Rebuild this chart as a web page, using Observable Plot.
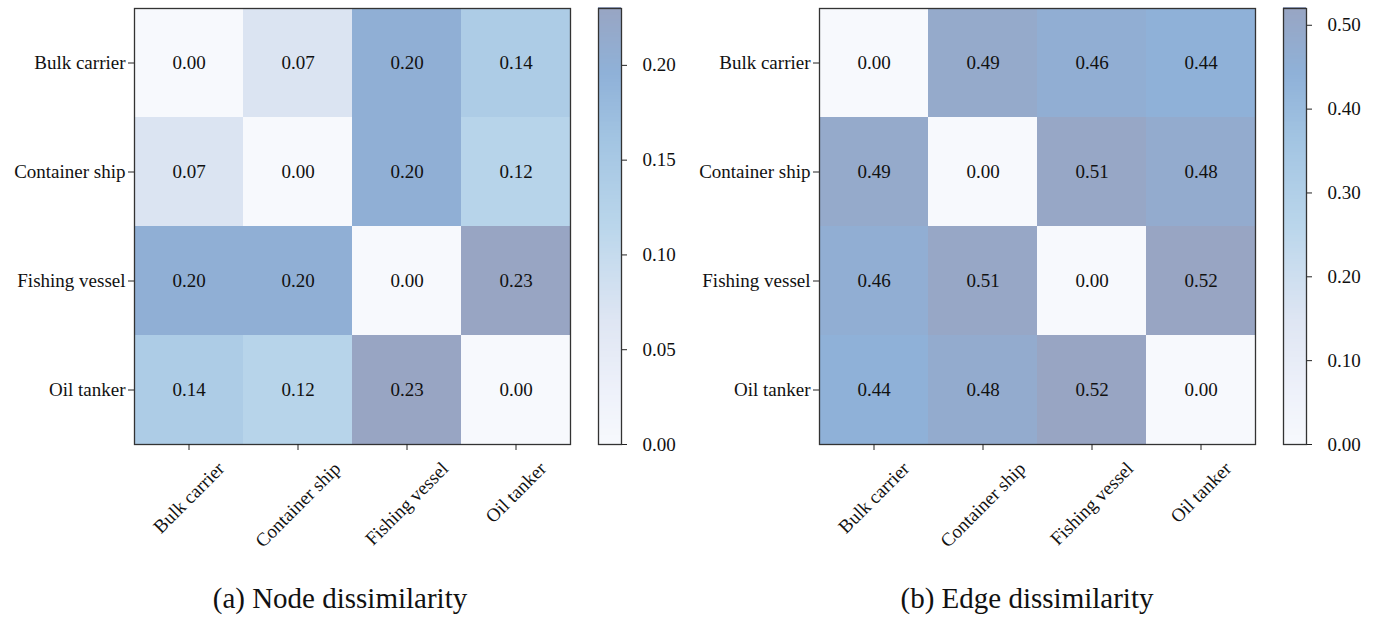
<!DOCTYPE html>
<html>
<head>
<meta charset="utf-8">
<script src="https://cdn.jsdelivr.net/npm/d3@7"></script>
<script src="https://cdn.jsdelivr.net/npm/@observablehq/plot@0.6"></script>
<style>
  html, body { margin: 0; padding: 0; background: #fff; }
  #figure { position: relative; width: 1379px; height: 617px; background: #fff; overflow: hidden; }
  .caption {
    position: absolute; width: 440px; text-align: center;
    font-family: "Liberation Serif", "Times New Roman", serif;
    font-size: 29px; line-height: 28px; color: #111; top: 584px;
  }
</style>
</head>
<body>
<div id="figure"></div>
<script>
// Ship categories (rows and columns of both matrices)
const ships = ["Bulk carrier", "Container ship", "Fishing vessel", "Oil tanker"];

// Pairwise node dissimilarity between ship types
const nodeDissimilarity = [
  [0.00, 0.07, 0.20, 0.14],
  [0.07, 0.00, 0.20, 0.12],
  [0.20, 0.20, 0.00, 0.23],
  [0.14, 0.12, 0.23, 0.00]
];

// Pairwise edge dissimilarity between ship types
const edgeDissimilarity = [
  [0.00, 0.49, 0.46, 0.44],
  [0.49, 0.00, 0.51, 0.48],
  [0.46, 0.51, 0.00, 0.52],
  [0.44, 0.48, 0.52, 0.00]
];

// Colour-bar tick values
const nodeTicks = [0.00, 0.05, 0.10, 0.15, 0.20];
const edgeTicks = [0.00, 0.10, 0.20, 0.30, 0.40, 0.50];

const captions = ["(a) Node dissimilarity", "(b) Edge dissimilarity"];

// Colour ramp: near-white -> pale lavender -> light blue -> mid blue -> slate
const rampStops = [0, 0.12, 0.28, 0.5, 0.7, 0.85, 1];
const rampColors = ["#f7f9fd", "#eef1fa", "#dfe6f3", "#bad6eb", "#a2c4e2", "#8fb1d8", "#98a5c3"];

const FONT = "Liberation Serif";
const FS = 19;
const fmt = d3.format(".2f");

function colorOptions(vmax) {
  return {
    type: "linear",
    domain: rampStops.map(s => s * vmax),
    range: rampColors,
    interpolate: "rgb"
  };
}

const measureCtx = document.createElement("canvas").getContext("2d");
measureCtx.font = `${FS}px "${FONT}"`;

function heatmap(matrix) {
  const cells = [];
  matrix.forEach((row, i) => row.forEach((v, j) => cells.push({row: ships[i], col: ships[j], v})));
  const vmax = d3.max(cells, d => d.v);

  // rotated column labels: bounding box top-aligned below the tick, centred on it
  const colLabels = ships.map(name => {
    const w = measureCtx.measureText(name).width;
    const half = (w + FS * 0.9) * Math.SQRT1_2 / 2;
    return Plot.text([name], {
      x: d => d, frameAnchor: "bottom", text: d => d,
      rotate: -45, textAnchor: "middle", lineAnchor: "middle",
      dy: 15 + half, fontSize: FS, fill: "#111"
    });
  });

  const svg = Plot.plot({
    width: 575, height: 560,
    marginLeft: 134, marginRight: 5, marginTop: 8, marginBottom: 116,
    style: {fontFamily: FONT, fontSize: FS + "px", background: "transparent", color: "#222"},
    x: {domain: ships, padding: 0, label: null},
    y: {domain: ships, padding: 0, label: null},
    color: colorOptions(vmax),
    marks: [
      Plot.cell(cells, {x: "col", y: "row", fill: "v", inset: 0}),
      Plot.text(cells, {x: "col", y: "row", text: d => fmt(d.v), fontSize: FS, fill: "#111"}),
      Plot.frame({stroke: "#333", strokeWidth: 1.3}),
      Plot.axisY({tickSize: 6, tickPadding: 3, fontSize: FS, fill: "#111", label: null}),
      Plot.axisX({tickSize: 6, tickFormat: () => "", label: null}),
      ...colLabels
    ]
  });
  return {svg, vmax};
}

function colorbar(vmax, ticks) {
  const n = 240;
  const steps = d3.range(n).map(i => ({lo: vmax * i / n, hi: vmax * (i + 1) / n}));
  return Plot.plot({
    width: 113, height: 560,
    marginLeft: 10, marginRight: 80, marginTop: 8, marginBottom: 116,
    style: {fontFamily: FONT, fontSize: FS + "px", background: "transparent", color: "#222"},
    y: {domain: [0, vmax], label: null},
    color: colorOptions(vmax),
    marks: [
      Plot.rect(steps, {y1: "lo", y2: d => d.hi + vmax / n * 0.5, fill: d => (d.lo + d.hi) / 2, shapeRendering: "crispEdges"}),
      Plot.frame({stroke: "#333", strokeWidth: 1.3}),
      Plot.axisY({anchor: "right", ticks, tickFormat: fmt, tickSize: 5, tickPadding: 16, fontSize: FS, fill: "#111", label: null})
    ]
  });
}

const fig = document.getElementById("figure");

const panels = [
  {matrix: nodeDissimilarity, ticks: nodeTicks, left: 0, barLeft: 588, caption: captions[0], capCenter: 340},
  {matrix: edgeDissimilarity, ticks: edgeTicks, left: 685, barLeft: 1273, caption: captions[1], capCenter: 1027}
];

for (const p of panels) {
  const {svg, vmax} = heatmap(p.matrix);
  svg.style.position = "absolute";
  svg.style.left = p.left + "px";
  svg.style.top = "0px";
  fig.appendChild(svg);

  const bar = colorbar(vmax, p.ticks);
  bar.style.position = "absolute";
  bar.style.left = p.barLeft + "px";
  bar.style.top = "0px";
  fig.appendChild(bar);

  const cap = document.createElement("div");
  cap.className = "caption";
  cap.textContent = p.caption;
  cap.style.left = (p.capCenter - 220) + "px";
  fig.appendChild(cap);
}
</script>
</body>
</html>
